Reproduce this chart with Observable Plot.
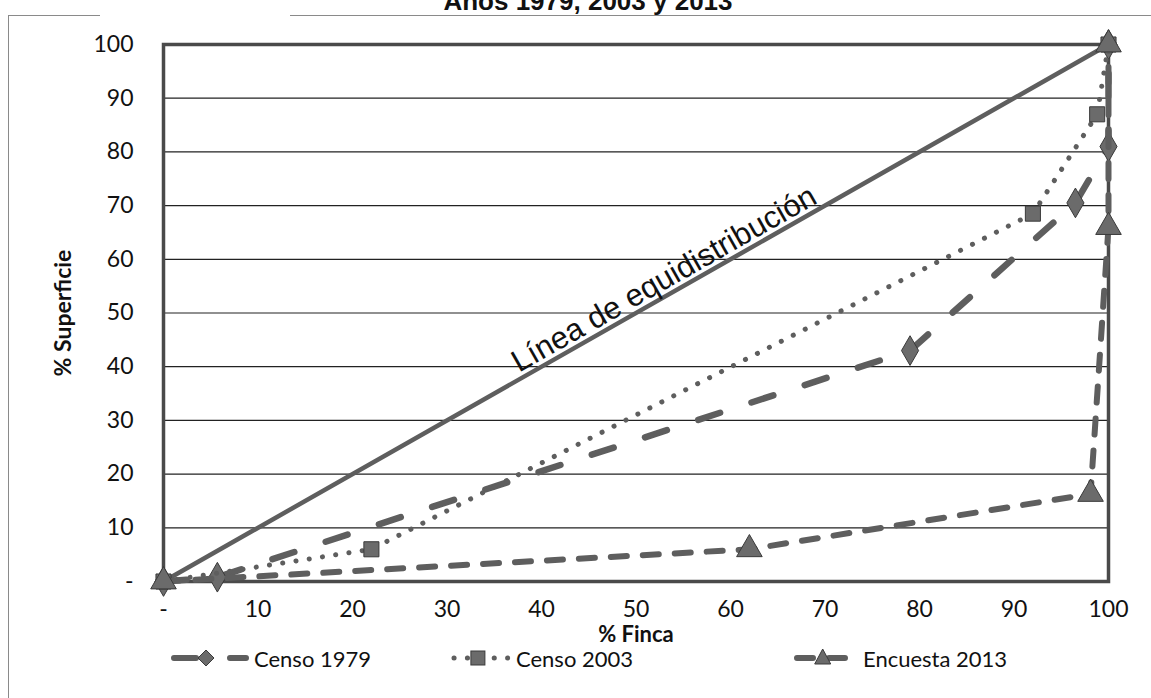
<!DOCTYPE html>
<html>
<head>
<meta charset="utf-8">
<script src="https://cdn.jsdelivr.net/npm/d3@7"></script>
<script src="https://cdn.jsdelivr.net/npm/@observablehq/plot@0.6"></script>
<style>
  html, body { margin: 0; padding: 0; background: #fff; overflow: hidden; }
  #wrap { position: relative; width: 1151px; height: 698px; font-family: Lato, sans-serif; }
  .border { position: absolute; background: #8a8a8a; }
  #title { position: absolute; left: 0; width: 1176px; text-align: center; top: -12px; font: bold 26px "Liberation Sans", Arial, sans-serif; color: #111; line-height: 1; }
  #chart { position: absolute; left: 0; top: 0; }
  .leg { position: absolute; top: 645px; height: 26px; display: flex; align-items: center; font-family: Lato, sans-serif; font-size: 22px; color: #111; }
  .leg svg { display: block; }
</style>
</head>
<body>
<div id="wrap">
  <div class="border" style="left:8px;top:15px;width:1px;height:690px"></div>
  <div class="border" style="left:8px;top:15px;width:92px;height:1px"></div>
  <div class="border" style="left:290px;top:15px;width:861px;height:1px"></div>
  <div id="title">Años 1979, 2003 y 2013</div>
  <div id="chart"></div>
</div>
<script>
// ---- data ----
const seriesNames = ["Censo 1979", "Censo 2003", "Encuesta 2013"];
const finca1979 = [0, 5.7, 79, 96.5, 100, 100];
const sup1979   = [0, 0.8, 43, 70.5, 81, 100];
const finca2003 = [0, 22, 92, 98.8, 100];
const sup2003   = [0, 6, 68.5, 87, 100];
const finca2013 = [0, 62, 98.1, 100, 100];
const sup2013   = [0, 6, 16.3, 66, 100];
const equiX = [0, 100];
const equiY = [0, 100];
const xTicks = [0, 10, 20, 30, 40, 50, 60, 70, 80, 90, 100];
const yTicks = [0, 10, 20, 30, 40, 50, 60, 70, 80, 90, 100];
const gridY = [10, 20, 30, 40, 50, 60, 70, 80, 90];
const equiLabel = "Línea de equidistribución";

const toRows = (xs, ys) => xs.map((x, i) => ({x, y: ys[i]}));
const s1979 = toRows(finca1979, sup1979);
const s2003 = toRows(finca2003, sup2003);
const s2013 = toRows(finca2013, sup2013);
const equi = toRows(equiX, equiY);

const lineCol = "#5e5e5e";
const markFill = "#6b6b6b";
const markStroke = "#3a3a3a";
const fmt = d => d === 0 ? "-" : String(d);
const FF = "Lato, sans-serif";

const chart = Plot.plot({
  width: 1151,
  height: 645,
  marginLeft: 163,
  marginRight: 43,
  marginTop: 44,
  marginBottom: 64,
  style: {fontFamily: FF, fontSize: "23px", color: "#111", background: "transparent", overflow: "visible"},
  x: {domain: [0, 100], label: null},
  y: {domain: [0, 100], label: null},
  marks: [
    Plot.axisX({ticks: xTicks, tickFormat: fmt, tickSize: 0, tickPadding: 19, fontSize: 23, fontFamily: FF, label: null}),
    Plot.axisY({ticks: yTicks, tickFormat: fmt, tickSize: 0, tickPadding: 30, fontSize: 23, fontFamily: FF, label: null}),
    Plot.ruleY(gridY, {stroke: "#222", strokeWidth: 1.2}),
    Plot.frame({stroke: "#4a4a4a", strokeWidth: 3.5}),
    Plot.line(equi, {x: "x", y: "y", stroke: lineCol, strokeWidth: 4.5}),
    Plot.text([equiLabel], {x: [53.8], y: [53.8], text: d => d, rotate: -29.6, lineAnchor: "bottom", dx: -3, dy: -5,
      fontFamily: "'Liberation Sans', Arial, sans-serif", fontSize: 31, fill: "#111"}),
    Plot.line(s1979, {x: "x", y: "y", stroke: lineCol, strokeWidth: 6.5, strokeDasharray: "23,33", strokeLinecap: "round"}),
    Plot.dot(s1979, {x: "x", y: "y", symbol: "diamond", r: 9, fill: markFill, stroke: markStroke, strokeWidth: 1}),
    Plot.line(s2003, {x: "x", y: "y", stroke: lineCol, strokeWidth: 5, strokeDasharray: "0.1,13.3", strokeLinecap: "round"}),
    Plot.dot(s2003, {x: "x", y: "y", symbol: "square", r: 8.5, fill: markFill, stroke: markStroke, strokeWidth: 1}),
    Plot.line(s2013, {x: "x", y: "y", stroke: lineCol, strokeWidth: 6, strokeDasharray: "16,16", strokeLinecap: "round"}),
    Plot.dot(s2013, {x: "x", y: "y", symbol: "triangle", r: 9.5, fill: markFill, stroke: markStroke, strokeWidth: 1}),
    Plot.text(["% Superficie"], {frameAnchor: "left", textAnchor: "middle", text: d => d, rotate: -90, dx: -100, fontWeight: "bold", fontSize: 23, fill: "#111", fontFamily: FF}),
    Plot.text(["% Finca"], {frameAnchor: "bottom", textAnchor: "middle", text: d => d, dy: 60, fontWeight: "bold", fontSize: 22, fill: "#111", fontFamily: FF})
  ]
});
document.getElementById("chart").appendChild(chart);

// ---- legend ----
const legendDefs = [
  {name: seriesNames[0], left: 170, dash: "22,34", sw: 6, sym: "diamond", sampleW: 80},
  {name: seriesNames[1], left: 450, dash: "0.1,13.3", sw: 5, sym: "square", sampleW: 62},
  {name: seriesNames[2], left: 793, dash: "16,16", sw: 6, sym: "triangle", sampleW: 66}
];
const wrap = document.getElementById("wrap");
for (const d of legendDefs) {
  const div = document.createElement("div");
  div.className = "leg";
  div.style.left = d.left + "px";
  const w = d.sampleW, h = 24, cy = h / 2, cx = w * 0.45;
  let marker;
  if (d.sym === "diamond") marker = `<path d="M${cx},${cy-8} L${cx+8},${cy} L${cx},${cy+8} L${cx-8},${cy} Z" fill="${markFill}" stroke="${markStroke}"/>`;
  else if (d.sym === "square") marker = `<rect x="${cx-7}" y="${cy-7}" width="14" height="14" fill="${markFill}" stroke="${markStroke}"/>`;
  else marker = `<path d="M${cx},${cy-9} L${cx+8},${cy+6} L${cx-8},${cy+6} Z" fill="${markFill}" stroke="${markStroke}"/>`;
  div.innerHTML = `<svg width="${w}" height="${h}"><line x1="4" y1="${cy}" x2="${w-4}" y2="${cy}" stroke="${lineCol}" stroke-width="${d.sw}" stroke-dasharray="${d.dash}" stroke-linecap="round"/>${marker}</svg><span style="margin-left:4px">${d.name}</span>`;
  wrap.appendChild(div);
}
</script>
</body>
</html>
